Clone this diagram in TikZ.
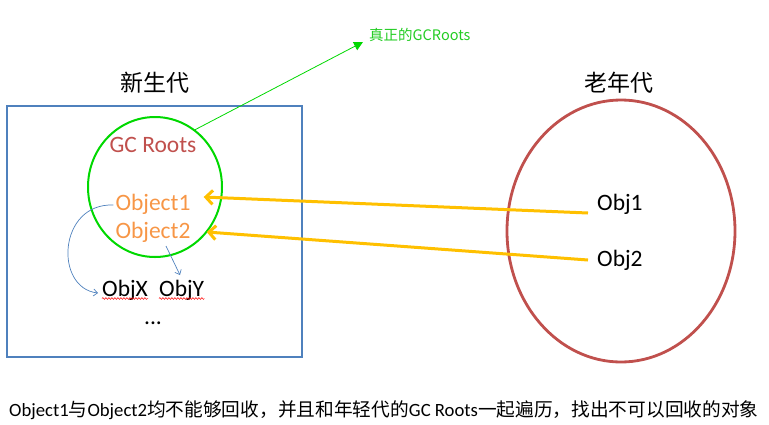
\documentclass[tikz,border=0pt]{standalone}
\usepackage{fontspec}
\setmainfont{Carlito}
\newfontfamily\cjk{Noto Sans CJK SC}
\usetikzlibrary{shapes.geometric,arrows.meta,decorations.pathmorphing}
\definecolor{boxblue}{HTML}{4F81BD}
\definecolor{gcgreen}{HTML}{00D800}
\definecolor{lblgreen}{HTML}{22CC22}
\definecolor{rootred}{HTML}{C0504D}
\definecolor{objorange}{HTML}{F79646}
\definecolor{arrorange}{HTML}{FFC000}
\tikzset{
  big/.style={inner sep=0pt, font=\fontsize{23.5}{26}\selectfont},
  cjktitle/.style={inner sep=0pt, font=\cjk\fontsize{23}{26}\selectfont},
  orangearrow/.style={draw=arrorange, line width=3pt, -{Straight Barb[length=7pt,width=14pt]}},
  thinblue/.style={draw=boxblue, line width=0.7pt, -{Straight Barb[length=4pt,width=7pt]}},
  spell/.style={draw=red, line width=0.5pt, decorate, decoration={snake, amplitude=0.9pt, segment length=3pt}}
}
\begin{document}
\begin{tikzpicture}[x=1pt,y=-1pt]
\useasboundingbox (0,0) rectangle (769,424);
% young generation
\node[cjktitle] (young) at (155,83) {新生代};
\node[draw=boxblue, line width=2.5pt, minimum width=295pt, minimum height=251pt, inner sep=0pt] (ybox) at (154.5,231.5) {};
\node[ellipse, draw=gcgreen, line width=2pt, minimum width=134pt, minimum height=140pt, inner sep=0pt] (gc) at (155,187) {};
\node[big, anchor=base, text=rootred] (roots) at (153,152) {GC Roots};
\node[big, anchor=base, text=objorange] (ob1) at (153,210) {Object1};
\node[big, anchor=base, text=objorange] (ob2) at (153,238) {Object2};
\node[big, anchor=base west] (objx) at (102,296) {ObjX};
\node[big, anchor=base west] (objy) at (159,296) {ObjY};
\node[big, anchor=base] (dots) at (153,324) {...};
\draw[spell] ([yshift=-2.5pt]objx.base west) -- ([yshift=-2.5pt]objx.base east);
\draw[spell] ([yshift=-2.5pt]objy.base west) -- ([yshift=-2.5pt]objy.base east);
% old generation
\node[cjktitle] (old) at (619,83) {老年代};
\node[ellipse, draw=rootred, line width=2.8pt, minimum width=228pt, minimum height=262pt, inner sep=0pt] (oldell) at (621,231) {};
\node[big, anchor=base west] (o1) at (597,210) {Obj1};
\node[big, anchor=base west] (o2) at (597,266) {Obj2};
% label
\node[inner sep=0pt, anchor=west, text=lblgreen, font=\cjk\fontsize{14.5}{16}\selectfont] (lbl) at (369,35) {真正的GCRoots};
% connectors
\draw[draw=gcgreen, line width=0.8pt, -{Triangle[length=9pt,width=9pt]}] (gc.55) -- ([xshift=-6pt,yshift=-7pt]lbl.west);
\draw[orangearrow] ([xshift=-9pt,yshift=-3pt]o1.base west) -- ([xshift=13pt,yshift=13pt]ob1.base east);
\draw[orangearrow] ([xshift=-9pt,yshift=6pt]o2.base west) -- ([xshift=16pt,yshift=6pt]ob2.base east);
\draw[thinblue] ([xshift=-2pt,yshift=5pt]ob1.base west) .. controls (58,203) and (54,288) .. ([xshift=-4pt,yshift=3pt]objx.base west);
\draw[thinblue] ([xshift=13pt,yshift=-8pt]ob2.base) -- ([xshift=21pt,yshift=21pt]objy.base west);
% caption
\node[inner sep=0pt, anchor=west, font=\fontsize{18.7}{20}\selectfont] (cap) at (9,410) {Object1{\cjk 与}Object2{\cjk 均不能够回收，并且和年轻代的}GC Roots{\cjk 一起遍历，找出不可以回收的对象}};
\end{tikzpicture}
\end{document}
